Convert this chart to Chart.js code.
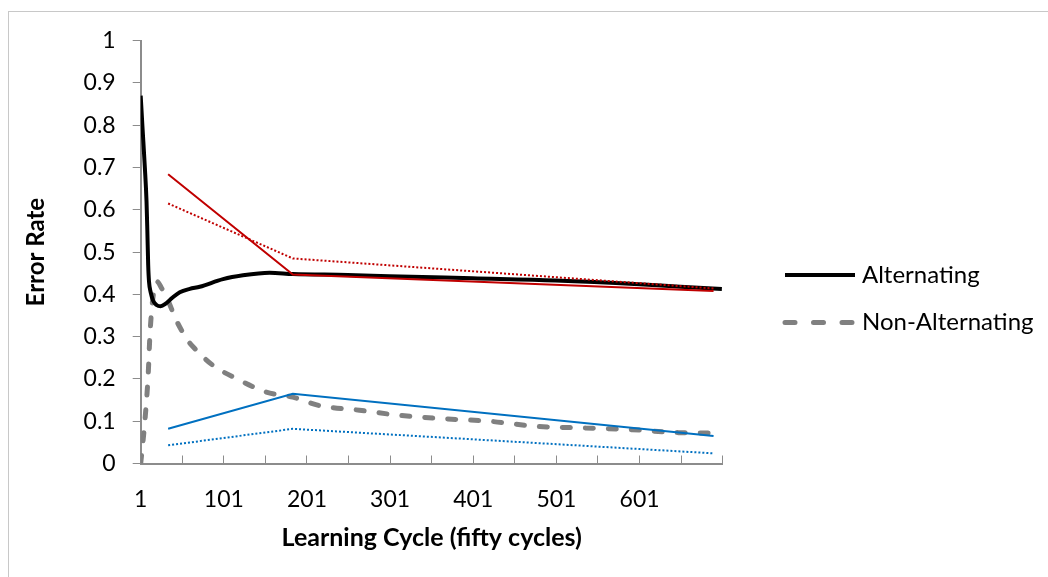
<!DOCTYPE html>
<html>
<head>
<meta charset="utf-8">
<title>Error Rate by Learning Cycle</title>
<script src="https://cdn.jsdelivr.net/npm/chart.js@4.4.1/dist/chart.umd.min.js"></script>
<style>
  html, body { margin: 0; padding: 0; background: #fff; }
  #chart-wrap { width: 1048px; height: 577px; }
</style>
</head>
<body>
<div id="chart-wrap"><canvas id="error-chart" width="1048" height="577"></canvas></div>
<script>
// values (x = learning cycle, y = error rate)
const alternatingCycles = [1, 3, 6, 8, 9, 10, 11, 13, 16, 20, 25, 31, 39, 48, 60, 72, 100, 124, 156, 184, 250, 300, 400, 500, 600, 650, 700];
const alternatingRates = [0.87, 0.8, 0.7, 0.62, 0.55, 0.47, 0.43, 0.405, 0.385, 0.375, 0.372, 0.378, 0.392, 0.405, 0.413, 0.418, 0.436, 0.445, 0.451, 0.448, 0.446, 0.443, 0.438, 0.433, 0.424, 0.418, 0.413];

const nonAlternatingCycles = [1, 6, 10, 12, 15, 19, 21, 26, 32, 44, 58, 64, 88, 116, 152, 184, 216, 264, 312, 364, 420, 476, 536, 592, 648, 700];
const nonAlternatingRates = [0, 0.1, 0.21, 0.3, 0.38, 0.425, 0.43, 0.415, 0.394, 0.338, 0.29, 0.276, 0.232, 0.201, 0.169, 0.157, 0.137, 0.126, 0.114, 0.106, 0.1, 0.088, 0.084, 0.08, 0.073, 0.072];

// straight reference lines drawn over the curves
const trendCycles = [34, 184, 690];
const altSolidTrend = [0.684, 0.447, 0.408];
const altDottedTrend = [0.615, 0.485, 0.414];
const nonAltSolidTrend = [0.082, 0.165, 0.065];
const nonAltDottedTrend = [0.043, 0.082, 0.024];

const xTickMarks = [1, 51, 101, 151, 201, 251, 301, 351, 401, 451, 501, 551, 601, 651, 701];
const xTickLabels = [1, 101, 201, 301, 401, 501, 601];
const yTicks = [0, 0.1, 0.2, 0.3, 0.4, 0.5, 0.6, 0.7, 0.8, 0.9, 1];

Chart.defaults.font.family = "Lato";
Chart.defaults.color = "#000";

function toPoints(xs, ys) {
  return xs.map((x, i) => ({ x: x, y: ys[i] }));
}

// white background and the thin frame round the chart
const chartFrame = {
  id: "chartFrame",
  beforeDraw(chart) {
    const { ctx, width, height } = chart;
    ctx.save();
    ctx.fillStyle = "#fff";
    ctx.fillRect(0, 0, width, height);
    ctx.strokeStyle = "#c8c8c8";
    ctx.lineWidth = 1;
    ctx.strokeRect(8.5, 11.5, width + 20, height + 20);
    ctx.restore();
  },
};

// legend on the right, only the two main series
const lineLegend = {
  id: "lineLegend",
  afterDraw(chart, args, opts) {
    const { ctx } = chart;
    opts.items.forEach((item, i) => {
      const ds = chart.data.datasets[item.index];
      const y = opts.top + i * opts.gap;
      ctx.save();
      ctx.strokeStyle = ds.borderColor;
      ctx.lineWidth = ds.borderWidth;
      ctx.lineCap = item.cap;
      ctx.setLineDash(item.dash);
      ctx.beginPath();
      ctx.moveTo(opts.left, y);
      ctx.lineTo(opts.left + opts.lineLength, y);
      ctx.stroke();
      ctx.setLineDash([]);
      ctx.fillStyle = "#000";
      ctx.font = "24px Lato";
      ctx.textBaseline = "middle";
      ctx.fillText(ds.label, opts.left + opts.lineLength + 7, y);
      ctx.restore();
    });
  },
};

const axisGray = "#8c8c8c";

const config = {
  type: "line",
  plugins: [chartFrame, lineLegend],
  data: {
    datasets: [
      {
        label: "Alternating",
        data: toPoints(alternatingCycles, alternatingRates),
        borderColor: "#000",
        borderWidth: 4,
        borderJoinStyle: "round",
        cubicInterpolationMode: "monotone",
        order: 1,
      },
      {
        label: "Non-Alternating",
        data: toPoints(nonAlternatingCycles, nonAlternatingRates),
        borderColor: "#808080",
        borderWidth: 5,
        borderDash: [8, 15],
        borderCapStyle: "round",
        cubicInterpolationMode: "monotone",
        order: 2,
      },
      {
        label: "Alternating trend",
        data: toPoints(trendCycles, altSolidTrend),
        borderColor: "#c00000",
        borderWidth: 2,
        order: 0,
      },
      {
        label: "Alternating trend (dotted)",
        data: toPoints(trendCycles, altDottedTrend),
        borderColor: "#c00000",
        borderWidth: 2,
        borderDash: [2, 2],
        order: 0,
      },
      {
        label: "Non-Alternating trend",
        data: toPoints(trendCycles, nonAltSolidTrend),
        borderColor: "#0070c0",
        borderWidth: 2,
        order: 0,
      },
      {
        label: "Non-Alternating trend (dotted)",
        data: toPoints(trendCycles, nonAltDottedTrend),
        borderColor: "#0070c0",
        borderWidth: 2,
        borderDash: [2, 2],
        order: 0,
      },
    ],
  },
  options: {
    responsive: false,
    animation: false,
    parsing: false,
    layout: {
      padding: { left: 0, top: 40.7, right: 325.3, bottom: 0 },
    },
    elements: {
      point: { radius: 0 },
      line: { tension: 0 },
    },
    plugins: {
      legend: { display: false },
      tooltip: { enabled: false },
      lineLegend: {
        left: 785,
        top: 275,
        gap: 47.5,
        lineLength: 70,
        items: [
          { index: 0, dash: [], cap: "butt" },
          { index: 1, dash: [10, 18.5], cap: "round" },
        ],
      },
    },
    scales: {
      x: {
        type: "linear",
        min: 1,
        max: 701,
        afterBuildTicks: (scale) => {
          scale.ticks = xTickMarks.map((v) => ({ value: v }));
        },
        afterFit: (scale) => {
          scale.height = 113.5;
        },
        ticks: {
          autoSkip: false,
          maxRotation: 0,
          padding: 30,
          font: { size: 23 },
          callback: (v) => (xTickLabels.includes(v) ? String(v) : ""),
        },
        grid: {
          drawOnChartArea: false,
          tickLength: -8,
          tickColor: axisGray,
          lineWidth: 1,
        },
        border: { color: axisGray, width: 2 },
        title: {
          display: true,
          text: "Learning Cycle (fifty cycles)",
          font: { size: 25, weight: "bold" },
          padding: { top: 0, bottom: 24 },
        },
      },
      y: {
        type: "linear",
        min: 0,
        max: 1,
        afterBuildTicks: (scale) => {
          scale.ticks = yTicks.map((v) => ({ value: v }));
        },
        afterFit: (scale) => {
          scale.width = 140.7;
        },
        ticks: {
          padding: 17,
          font: { size: 23 },
          callback: (v) => String(Math.round(v * 10) / 10),
        },
        grid: {
          drawOnChartArea: false,
          tickLength: 8,
          tickColor: axisGray,
          lineWidth: 1,
        },
        border: { color: axisGray, width: 2 },
        title: {
          display: true,
          text: "Error Rate",
          font: { size: 24, weight: "bold" },
          padding: { top: 22, bottom: 0 },
        },
      },
    },
  },
};

const errorChart = new Chart(document.getElementById("error-chart"), config);
</script>
</body>
</html>
